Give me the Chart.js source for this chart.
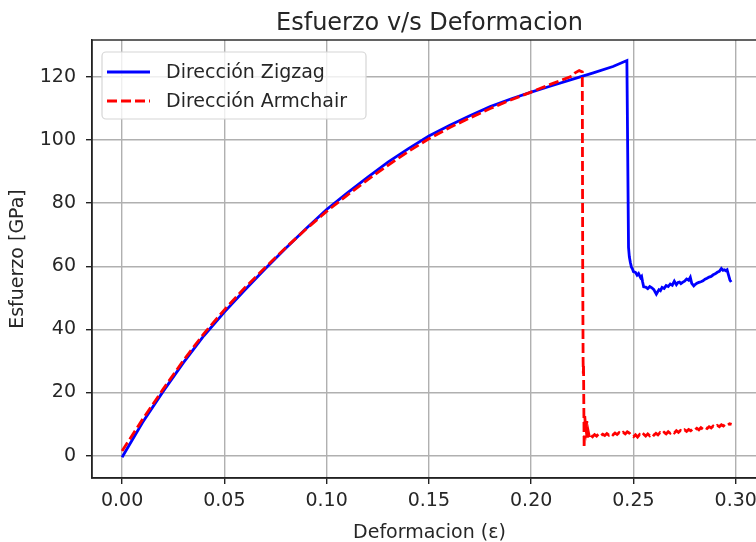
<!DOCTYPE html>
<html>
<head>
<meta charset="utf-8">
<script src="https://cdn.jsdelivr.net/npm/chart.js@4.4.1/dist/chart.umd.min.js"></script>
<style>
    html, body { margin: 0; padding: 0; background: #fff; overflow: hidden; }
    #wrap { position: relative; width: 790px; height: 542px; }
</style>
</head>
<body>
<div id="wrap"><canvas id="chart" width="790" height="542"></canvas></div>
<script>
// --- data ---
const zigzagX = [
    0.000, 0.010, 0.020, 0.030, 0.040, 0.050, 0.060, 0.070, 0.080, 0.090,
    0.100, 0.110, 0.120, 0.130, 0.140, 0.150, 0.160, 0.170, 0.180, 0.190,
    0.200, 0.210, 0.220, 0.230, 0.240, 0.2468,
    0.2472, 0.2476, 0.2480, 0.2485, 0.2490, 0.2495, 0.2500, 0.2510, 0.2518, 0.2525,
    0.2535, 0.2540, 0.2545, 0.2550, 0.2560, 0.2570, 0.2580, 0.2590, 0.2600, 0.2605,
    0.2612, 0.2620, 0.2625, 0.2632, 0.2640, 0.2650, 0.2660, 0.2670, 0.2680, 0.2690,
    0.2700, 0.2710, 0.2718, 0.2725, 0.2732, 0.2740, 0.2750, 0.2760, 0.2770, 0.2778,
    0.2785, 0.2795, 0.2803, 0.2810, 0.2820, 0.2830, 0.2840, 0.2850, 0.2860, 0.2870,
    0.2880, 0.2890, 0.2900, 0.2910, 0.2920, 0.2930, 0.2938, 0.2945, 0.2952, 0.2958,
    0.2965, 0.2972, 0.2978
];
const zigzagY = [
    -0.5, 10.5, 20.3, 29.5, 38.0, 45.5, 52.5, 59.2, 65.7, 72.0,
    78.0, 83.2, 88.2, 93.0, 97.3, 101.3, 104.6, 107.7, 110.6, 113.0,
    115.2, 117.2, 119.2, 121.2, 123.3, 125.2,
    96.0, 66.0, 63.0, 61.2, 59.8, 59.2, 58.3, 58.1, 57.2, 57.7,
    56.4, 56.8, 55.0, 53.5, 53.4, 52.9, 53.6, 53.2, 52.6, 52.0,
    51.2, 52.1, 52.6, 52.3, 53.3, 53.0, 53.9, 53.6, 54.4, 54.0,
    55.3, 54.2, 54.9, 55.0, 54.5, 54.9, 55.3, 56.0, 55.6, 56.5,
    54.6, 53.8, 54.3, 54.6, 54.9, 55.1, 55.4, 55.9, 56.2, 56.6,
    56.8, 57.3, 57.6, 58.1, 58.4, 59.3, 58.7, 58.9, 58.6, 58.9,
    57.2, 55.6, 55.0
];

const armchairX = [
    0.000, 0.010, 0.020, 0.030, 0.040, 0.050, 0.060, 0.070, 0.080, 0.090,
    0.100, 0.110, 0.120, 0.130, 0.140, 0.150, 0.160, 0.170, 0.180, 0.190,
    0.200, 0.210, 0.215, 0.2200, 0.2215, 0.2235, 0.2250,
    0.2252, 0.2254, 0.2255, 0.2256, 0.2257, 0.2259, 0.2262, 0.2265, 0.2268, 0.2272,
    0.2276, 0.2280, 0.2285, 0.2290, 0.2300, 0.2310, 0.2320, 0.2330, 0.2340, 0.2350,
    0.2360, 0.2370, 0.2380, 0.2390, 0.2400, 0.2410, 0.2420, 0.2430, 0.2440, 0.2450,
    0.2460, 0.2470, 0.2480, 0.2490, 0.2500, 0.2510, 0.2520, 0.2530, 0.2540, 0.2550,
    0.2560, 0.2570, 0.2580, 0.2590, 0.2600, 0.2610, 0.2620, 0.2630, 0.2640, 0.2650,
    0.2660, 0.2670, 0.2680, 0.2690, 0.2700, 0.2710, 0.2720, 0.2730, 0.2740, 0.2750,
    0.2760, 0.2770, 0.2780, 0.2790, 0.2800, 0.2810, 0.2820, 0.2830, 0.2840, 0.2850,
    0.2860, 0.2870, 0.2880, 0.2890, 0.2900, 0.2910, 0.2920, 0.2930, 0.2940, 0.2950,
    0.2960, 0.2970, 0.2980
];
const armchairY = [
    1.5, 11.5, 21.0, 30.2, 38.7, 46.2, 53.2, 59.6, 65.9, 71.8,
    77.4, 82.5, 87.4, 92.0, 96.4, 100.4, 103.9, 107.0, 110.0, 112.7,
    115.2, 117.8, 119.0, 120.3, 121.3, 122.0, 121.6,
    60.0, 30.0, 26.0, 29.0, 20.0, 2.5, 12.5, 10.0, 8.5, 11.0,
    5.2, 7.4, 5.8, 6.6, 6.0, 6.7, 6.2, 6.9, 6.3, 6.8,
    6.4, 7.0, 6.5, 7.1, 6.6, 7.2, 6.7, 7.3, 6.8, 7.4,
    6.9, 7.6, 7.2, 6.3, 6.0, 6.6, 5.9, 6.7, 6.1, 6.8,
    6.2, 6.9, 6.3, 7.0, 6.5, 7.1, 6.6, 7.3, 6.8, 7.4,
    6.9, 7.6, 7.1, 7.7, 7.2, 7.9, 7.4, 8.0, 7.6, 8.2,
    7.7, 8.3, 7.9, 8.5, 8.1, 8.7, 8.2, 8.9, 8.4, 9.0,
    8.6, 9.2, 8.8, 9.4, 9.0, 9.6, 9.2, 9.8, 9.4, 10.0,
    9.6, 10.1, 9.9
];

const xTicks = [0.00, 0.05, 0.10, 0.15, 0.20, 0.25, 0.30];
const yTicks = [0, 20, 40, 60, 80, 100, 120];
const xRange = [-0.0147, 0.3153];
const yRange = [-7.07, 131.7];

const seriesLabels = ['Dirección Zigzag', 'Dirección Armchair'];
const titleText = 'Esfuerzo v/s Deformacion';
const xLabel = 'Deformacion (ε)';
const yLabel = 'Esfuerzo [GPa]';

// --- helpers ---
const FONT = 'DejaVu Sans';
const TEXT = '#262626';

function toPoints(xs, ys) {
    return xs.map((x, i) => ({ x: x, y: ys[i] }));
}

// matplotlib style frame (all four spines) + legend inside the axes
const framePlugin = {
    id: 'frame',
    afterDatasetsDraw(chart) {
        const { ctx, chartArea: a } = chart;
        ctx.save();
        ctx.strokeStyle = '#222';
        ctx.lineWidth = 1.4;
        ctx.strokeRect(a.left, a.top, a.right - a.left, a.bottom - a.top);
        ctx.restore();
    },
    afterDraw(chart) {
        const { ctx, chartArea: a } = chart;
        const bx = a.left + 10, by = a.top + 12, bw = 264, bh = 67, r = 4;
        ctx.save();
        ctx.beginPath();
        ctx.roundRect(bx, by, bw, bh, r);
        ctx.fillStyle = 'rgba(255,255,255,0.8)';
        ctx.fill();
        ctx.strokeStyle = '#d6d6d6';
        ctx.lineWidth = 1.2;
        ctx.stroke();

        ctx.font = '19px "' + FONT + '"';
        ctx.textBaseline = 'middle';
        chart.data.datasets.forEach((ds, i) => {
            const yy = by + 20 + i * 29;
            ctx.beginPath();
            ctx.setLineDash(ds.borderDash || []);
            ctx.strokeStyle = ds.borderColor;
            ctx.lineWidth = ds.borderWidth;
            ctx.moveTo(bx + 5, yy);
            ctx.lineTo(bx + 48, yy);
            ctx.stroke();
            ctx.setLineDash([]);
            ctx.fillStyle = TEXT;
            ctx.fillText(ds.label, bx + 64, yy + 1);
        });
        ctx.restore();
    }
};

const ctx = document.getElementById('chart').getContext('2d');
new Chart(ctx, {
    type: 'line',
    data: {
        datasets: [
            {
                label: seriesLabels[0],
                data: toPoints(zigzagX, zigzagY),
                borderColor: '#0000ff',
                borderWidth: 2.8,
                pointRadius: 0,
                tension: 0,
                order: 1
            },
            {
                label: seriesLabels[1],
                data: toPoints(armchairX, armchairY),
                borderColor: '#ff0000',
                borderWidth: 2.8,
                borderDash: [10, 4],
                pointRadius: 0,
                tension: 0,
                order: 0
            }
        ]
    },
    options: {
        responsive: false,
        animation: false,
        layout: { padding: { top: 0, left: 0, right: 23, bottom: 0 } },
        plugins: {
            legend: { display: false },
            tooltip: { enabled: false },
            title: {
                display: true,
                text: titleText,
                fullSize: false,
                color: TEXT,
                font: { family: FONT, size: 24, weight: 'normal', lineHeight: 1.2 },
                padding: { top: 9, bottom: 2.2 }
            }
        },
        scales: {
            x: {
                type: 'linear',
                min: xRange[0],
                max: xRange[1],
                afterBuildTicks: s => { s.ticks = xTicks.map(v => ({ value: v })); },
                afterFit: s => { s.height = 64; },
                ticks: {
                    callback: v => v.toFixed(2),
                    color: TEXT,
                    font: { family: FONT, size: 19 },
                    padding: 6,
                    maxRotation: 0,
                    autoSkip: false
                },
                grid: { color: '#b0b0b0', lineWidth: 1.4, tickColor: '#222', tickLength: 6, tickWidth: 1.4 },
                border: { color: '#222', width: 1.4 },
                title: {
                    display: true,
                    text: xLabel,
                    color: TEXT,
                    font: { family: FONT, size: 19, lineHeight: 0.9 },
                    padding: { top: 0, bottom: 0 }
                }
            },
            y: {
                type: 'linear',
                min: yRange[0],
                max: yRange[1],
                afterBuildTicks: s => { s.ticks = yTicks.map(v => ({ value: v })); },
                afterFit: s => { s.width = 92; },
                ticks: {
                    callback: v => String(v),
                    color: TEXT,
                    font: { family: FONT, size: 19 },
                    padding: 10,
                    autoSkip: false
                },
                grid: { color: '#b0b0b0', lineWidth: 1.4, tickColor: '#222', tickLength: 6, tickWidth: 1.4 },
                border: { color: '#222', width: 1.4 },
                title: {
                    display: true,
                    text: yLabel,
                    color: TEXT,
                    font: { family: FONT, size: 19 },
                    padding: { top: 7, bottom: 0 }
                }
            }
        }
    },
    plugins: [framePlugin]
});
</script>
</body>
</html>
